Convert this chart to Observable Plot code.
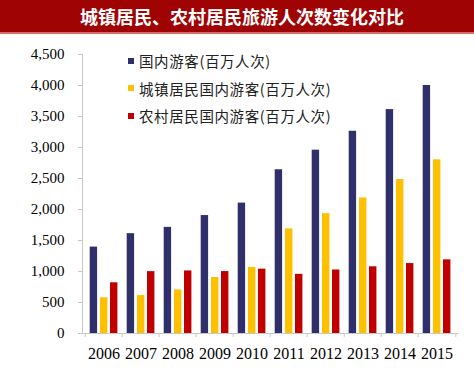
<!DOCTYPE html>
<html>
<head>
<meta charset="utf-8">
<script src="https://cdn.jsdelivr.net/npm/d3@7"></script>
<script src="https://cdn.jsdelivr.net/npm/@observablehq/plot@0.6"></script>
<style>
  body { margin: 0; background: #fff; }
  #wrap { position: relative; width: 474px; height: 368px; overflow: hidden; }
  #title { height: 32px; background: #a00303; border-bottom: 2px solid #d86a6a; color: #fff;
    font-family: "Noto Sans CJK SC", sans-serif; font-weight: bold; font-size: 18px; letter-spacing: 0px;
    text-align: center; line-height: 32px; padding-left: 10px; box-sizing: content-box; }
  #legend { position: absolute; left: 128px; top: 47px; font-family: "Noto Sans CJK SC", serif; font-size: 14.5px; color: #222; }
  #legend .row { height: 27.5px; display: flex; align-items: center; letter-spacing: 0.6px; }
  #legend .sw { width: 6px; height: 6px; margin-right: 5px; }
</style>
</head>
<body>
<div id="wrap">
  <div id="title"></div>
  <div id="chart"></div>
  <div id="legend"></div>
</div>
<script>
const titleText = "城镇居民、农村居民旅游人次数变化对比";
const years = ["2006","2007","2008","2009","2010","2011","2012","2013","2014","2015"];
const seriesNames = ["国内游客(百万人次)", "城镇居民国内游客(百万人次)", "农村居民国内游客(百万人次)"];
const seriesColors = ["#2f2f6b", "#ffc000", "#c00000"];
const domestic = [1394, 1610, 1712, 1902, 2103, 2641, 2957, 3262, 3611, 4000];
const urban = [576, 612, 703, 903, 1065, 1687, 1933, 2186, 2483, 2802];
const rural = [818, 998, 1009, 999, 1038, 954, 1024, 1076, 1128, 1188];
const yTicks = [0, 500, 1000, 1500, 2000, 2500, 3000, 3500, 4000, 4500];

document.getElementById("title").textContent = titleText;

const seriesValues = [domestic, urban, rural];
const insets = [[4.7, 24.9], [15.0, 14.6], [25.0, 4.6]];
const half = (474 - 82 - 16) / years.length / 2;

const barMarks = seriesValues.map((vals, i) =>
  Plot.barY(years.map((y, j) => ({year: y, value: vals[j]})), {
    x: "year", y: "value", fill: seriesColors[i],
    insetLeft: insets[i][0], insetRight: insets[i][1]
  })
);

const chart = Plot.plot({
  width: 474,
  height: 334,
  marginTop: 20,
  marginBottom: 35,
  marginLeft: 82,
  marginRight: 16,
  style: {fontFamily: "Liberation Serif, serif", color: "#000", background: "#fff"},
  x: {domain: years, padding: 0, axis: null},
  y: {domain: [0, 4500], axis: null},
  marks: [
    ...barMarks,
    Plot.ruleY([0], {stroke: "#c8c8c8"}),
    Plot.ruleX(years, {x: d => d, y1: 0, y2: 0, insetBottom: -4, dx: -half, stroke: "#c8c8c8"}),
    Plot.ruleX([years[years.length - 1]], {x: d => d, y1: 0, y2: 0, insetBottom: -4, dx: half, stroke: "#c8c8c8"}),
    Plot.frame({anchor: "left", stroke: "#c8c8c8"}),
    Plot.axisY({ticks: yTicks, tickFormat: d3.format(","), tickSize: 4, tickPadding: 14,
      stroke: "#c8c8c8", fontSize: 15, label: null}),
    Plot.axisX({tickSize: 0, tickPadding: 14, fontSize: 16, label: null})
  ]
});
document.getElementById("chart").appendChild(chart);

const legend = document.getElementById("legend");
seriesNames.forEach((name, i) => {
  const row = document.createElement("div");
  row.className = "row";
  const sw = document.createElement("span");
  sw.className = "sw";
  sw.style.background = seriesColors[i];
  const t = document.createElement("span");
  t.textContent = name;
  row.appendChild(sw);
  row.appendChild(t);
  legend.appendChild(row);
});
</script>
</body>
</html>
